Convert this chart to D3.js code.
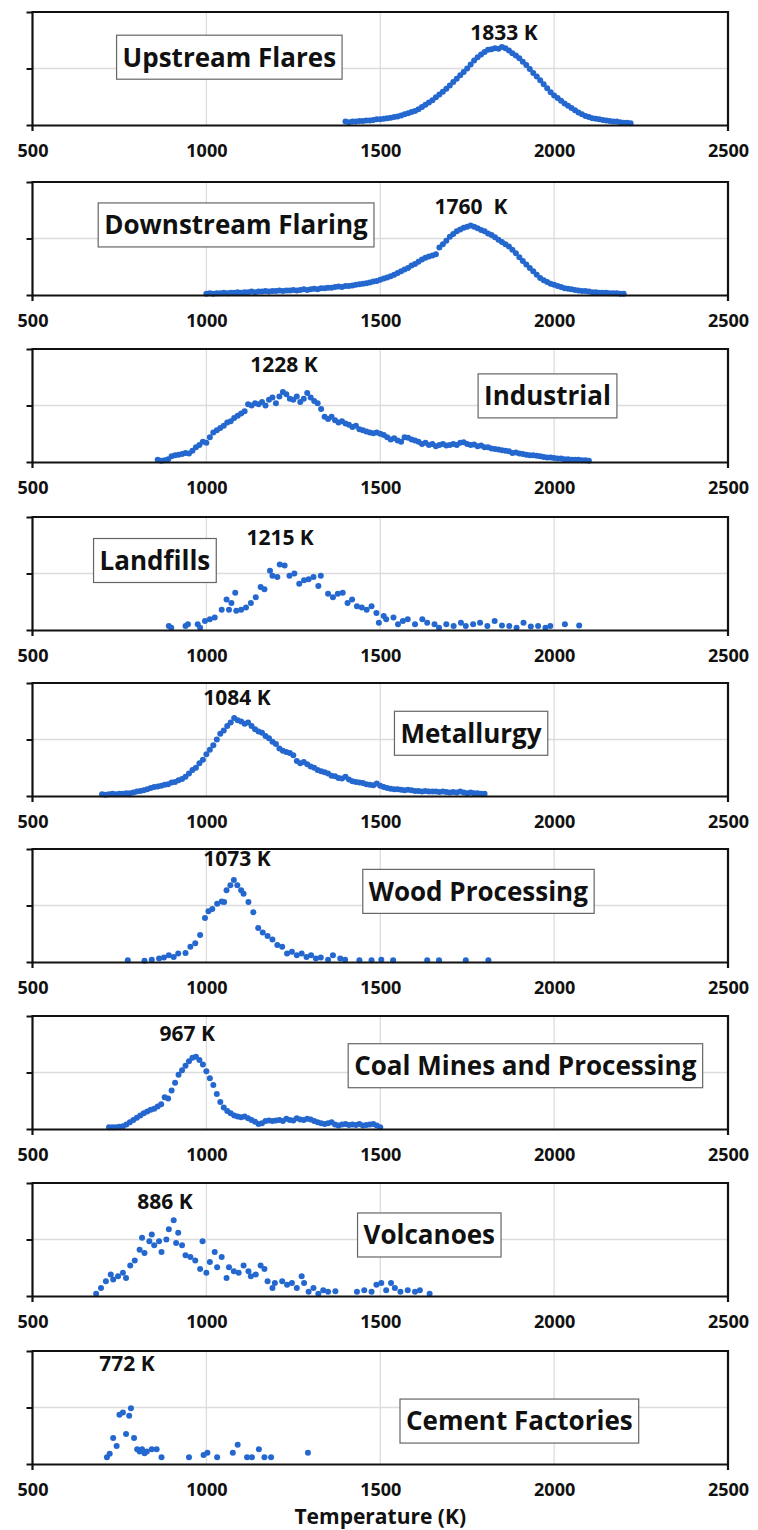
<!DOCTYPE html>
<html>
<head>
<meta charset="utf-8">
<script src="https://cdn.jsdelivr.net/npm/d3@7"></script>
<style>
  body { margin: 0; background: #fff; }
  svg text { font-family: "Open Sans", "Liberation Sans", sans-serif; font-weight: 700; fill: #111; }
</style>
</head>
<body>
<svg id="chart" width="758" height="1530"></svg>
<script>
// bin width (K) for the densely sampled series
const binStep = 10

const xTicks = [500, 1000, 1500, 2000, 2500]
const axisTitle = "Temperature (K)"

// dense series: first bin temperature + relative counts (% of panel height)
const upstreamStart = 1400
const upstreamValues = [3, 2.5, 3, 3, 3.5, 3.5, 4, 4, 4.5, 5, 5, 5.5, 6, 6.5, 7, 7.5, 8.5, 9.5, 10.5, 11.5,
    12.5, 14, 16, 18, 20, 22, 24.5, 27, 29.5, 32, 35, 38, 41, 44, 47, 50, 53.5, 57, 60, 62.5,
    64.5, 66.5, 67, 68, 67.5, 69, 68, 66, 63.5, 61.5, 59, 56, 53, 49.5, 46, 43, 39.5, 36, 32.5, 29,
    26, 24, 21.5, 19, 17, 15, 13, 11, 9.5, 8, 7, 6, 5.5, 5, 4.5, 4, 3.5, 3, 3, 2.5, 2, 2, 1.5]

const downstreamStart = 1000
const downstreamValues = [1, 1.5, 1, 1.5, 1.5, 2, 1.5, 2, 2, 2.5, 2, 2.5, 2.5, 3, 2.5, 3, 3, 3.5, 3, 3.5,
    3.5, 4, 3.5, 4, 4, 4.5, 4, 4.5, 5, 4.5, 5, 5.5, 5, 6, 6, 6.5, 6.5, 7, 7.5, 7,
    8, 8, 8.5, 9, 9.5, 10, 10.5, 11, 12, 12.5, 13.5, 14.5, 15.5, 16.5, 18, 19.5, 21, 22.5, 24, 26,
    27.5, 29.5, 31.5, 33, 34, 35, 36, 42, 45, 48, 51.5, 54, 56.5, 58, 59.5, 60.5, 61.5, 60.5, 59, 57.5,
    56.5, 54.5, 53, 51, 49, 47, 45, 43, 40, 37, 33.5, 30, 27, 24, 21, 18, 15, 13, 11.5, 10,
    9, 8, 7, 6, 5.5, 5, 4.5, 4, 3.5, 3.5, 3, 2.5, 2.5, 2, 2, 2, 1.5, 1.5, 1.5, 1, 1]

const industrialStart = 860
const industrialValues = [2, 1, 1.5, 2.5, 5, 6, 6.5, 7, 8, 7.5, 10, 13, 15, 18, 17, 22, 26, 28, 30, 32,
    35, 36, 39, 41, 43, 45, 51, 50, 52, 51, 53, 50, 55, 57, 52, 58, 62, 60, 56, 55,
    58, 53, 56, 61, 57, 54, 52, 47, 40, 38, 40, 37, 35, 36, 34, 33, 31, 32, 29, 28,
    27, 26, 25.5, 26, 25, 24, 22, 20, 21, 19, 18, 22, 21.5, 20, 19, 18, 16, 17, 15, 16,
    14, 15, 16, 14.5, 15, 16, 15, 17, 17.5, 16, 15, 15.5, 14, 14.5, 13, 13, 12, 11.5, 11, 10.5,
    10, 9.5, 8, 8.5, 7.5, 7, 6.5, 6, 6, 5.5, 5, 4.5, 4, 4, 3.5, 3, 3, 2.5, 2.5, 2,
    2, 2, 1.5, 1.5, 1]

const metallurgyStart = 700
const metallurgyValues = [1.5, 1, 1.5, 2, 1.5, 2, 2, 2.5, 2.5, 3, 4, 4.5, 5, 6, 7, 8, 8.5, 9, 10, 10.5,
    12, 12.5, 14, 15, 17, 20, 23, 25, 29, 32, 37, 41, 45, 50, 55, 58, 62, 65, 69, 67,
    66, 64, 65, 62, 59, 57, 56, 53, 51, 48, 46, 42, 40, 39, 38, 36, 31, 29, 30, 28,
    26, 25, 23, 22, 21, 20, 18, 17.5, 16, 15.5, 17, 14.5, 13, 12.5, 12, 11.5, 10.5, 10, 9.5, 11,
    9, 8, 7, 6.5, 6, 6, 5.5, 5, 5.5, 5, 4.5, 4.5, 4, 4.5, 4, 4, 4, 3.5, 4, 3.5,
    3, 3.5, 3, 4, 3, 2.5, 3, 2.5, 2.5, 2, 2]

const coalStart = 720
const coalValues = [1.5, 1.5, 1.5, 2, 2.5, 4, 6, 8, 10, 12, 14, 15.5, 17, 18, 20, 22, 28, 27, 34, 41,
    48, 52, 56, 60, 63, 64, 61, 57, 51, 45, 39, 31, 24, 19, 16, 14, 12, 11, 10.5, 11,
    9.5, 8, 6.5, 4.5, 5, 7, 7.5, 7, 7.5, 8, 7, 9, 8, 7.5, 9.5, 8.5, 8, 9, 8.5, 7,
    6, 5, 4.5, 5, 6, 4, 3, 4, 4.5, 3.5, 4, 3.5, 4.5, 3, 3.5, 4, 4.5, 3, 1.5]

// sparse series: [temperature K, relative count]
const landfillPoints = [[892, 3.5], [899, 2], [940, 3.5], [947, 5], [975, 5], [982, 2], [996, 8], [1010, 9.5],
    [1024, 11], [1044, 18], [1058, 27], [1072, 24], [1083, 33], [1065, 18], [1086, 17], [1100, 18],
    [1114, 20], [1128, 24], [1142, 29], [1156, 38], [1167, 36], [1183, 52.5], [1190, 48], [1204, 47],
    [1211, 58], [1225, 57], [1239, 48], [1253, 50], [1267, 41], [1281, 44], [1294, 45], [1308, 47],
    [1322, 39], [1329, 48], [1350, 32], [1364, 29], [1378, 32], [1392, 33], [1406, 24], [1419, 27],
    [1433, 21], [1447, 20], [1461, 18], [1475, 21], [1489, 15], [1496, 6.5], [1510, 12.5], [1517, 9.5],
    [1538, 11], [1551, 5], [1565, 8], [1579, 9.5], [1600, 5], [1621, 9.5], [1635, 6.5], [1656, 5],
    [1669, 2], [1690, 5], [1711, 3.5], [1732, 6.5], [1746, 3.5], [1767, 5], [1787, 6.5], [1808, 3.5],
    [1829, 8], [1850, 4], [1871, 3.5], [1892, 2], [1912, 6.5], [1933, 3], [1954, 3.5], [1975, 2],
    [1989, 3.5], [2031, 5], [2072, 4]]

const woodPoints = [[774, 1.5], [822, 1], [843, 2], [864, 3], [878, 4], [892, 6], [906, 4.5], [919, 7.5],
    [940, 8], [954, 13.5], [968, 16.5], [982, 24], [996, 39], [1006, 45], [1017, 47], [1031, 51.5],
    [1044, 53.5], [1051, 53], [1058, 63.5], [1069, 68], [1079, 72.5], [1089, 68], [1100, 63.5], [1107, 60.5],
    [1121, 53], [1135, 44], [1149, 30], [1162, 26], [1176, 23], [1190, 20], [1204, 15], [1218, 13.5],
    [1232, 7.5], [1246, 9], [1260, 6], [1274, 7.5], [1288, 4.5], [1301, 6], [1315, 3], [1329, 4],
    [1350, 2], [1364, 6], [1385, 3], [1399, 2], [1440, 1.5], [1475, 1.5], [1503, 2], [1537, 1.5],
    [1635, 1.5], [1669, 1.5], [1746, 1.5], [1811, 1.5]]

const volcanoPoints = [[683, 2], [697, 7], [711, 13], [725, 19], [732, 14.5], [746, 17.5], [760, 20.5], [769, 16],
    [781, 27], [794, 31.5], [808, 41], [815, 51.5], [822, 38], [836, 48.5], [843, 54.5], [850, 45],
    [864, 48.5], [871, 39], [885, 50], [892, 59], [906, 67], [913, 47], [919, 56], [930, 45],
    [940, 36], [954, 34.5], [968, 31.5], [982, 24], [989, 48.5], [1000, 20.5], [1010, 30], [1024, 39],
    [1031, 25.5], [1044, 34.5], [1058, 16], [1065, 25.5], [1079, 22], [1093, 20.5], [1107, 27], [1121, 22],
    [1128, 17.5], [1142, 19], [1156, 27], [1167, 24], [1176, 13], [1190, 7], [1197, 11.5], [1218, 13],
    [1232, 10], [1246, 11.5], [1260, 7], [1274, 17.5], [1281, 11.5], [1294, 3.7], [1308, 7], [1322, 2],
    [1336, 5], [1350, 3.7], [1371, 4.3], [1433, 3.7], [1454, 5], [1475, 3.7], [1489, 10], [1503, 11.5],
    [1517, 5], [1531, 11.5], [1542, 7], [1558, 3.7], [1579, 5], [1600, 3.7], [1614, 5], [1642, 2]]

const cementPoints = [[714, 6], [722, 9], [732, 23], [742, 16], [750, 43.5], [760, 45.5], [769, 26.6], [778, 42.6],
    [783, 49.4], [792, 23], [801, 13], [808, 11], [815, 13], [822, 9.5], [829, 11], [843, 13],
    [857, 13], [871, 6], [950, 6], [992, 8], [1003, 10], [1031, 6], [1076, 10], [1090, 17],
    [1117, 6], [1131, 6], [1151, 13], [1167, 6], [1186, 6], [1292, 10]]

const sourceNames = ["Upstream Flares", "Downstream Flaring", "Industrial", "Landfills", "Metallurgy",
    "Wood Processing", "Coal Mines and Processing", "Volcanoes", "Cement Factories"]
const peakLabels = ["1833 K", "1760  K", "1228 K", "1215 K", "1084 K", "1073 K", "967 K", "886 K", "772 K"]

const binned = (start, values) => values.map((v, i) => [start + i * binStep, v])
const series = [
    binned(upstreamStart, upstreamValues),
    binned(downstreamStart, downstreamValues),
    binned(industrialStart, industrialValues),
    landfillPoints,
    binned(metallurgyStart, metallurgyValues),
    woodPoints,
    binned(coalStart, coalValues),
    volcanoPoints,
    cementPoints
]

// layout: panel tops in px, annotation anchors in data units [T, value]
const panelTops = [12, 182, 349, 517, 683, 849, 1016, 1183, 1351]
const peakAnchors = [[1856, 82], [1761, 78], [1223, 86], [1212, 82], [1088, 87], [1088, 92], [945, 85], [881, 84], [772, 89]]
const boxAnchors = [[1066, 60], [1085, 62], [1981, 58.5], [852, 61.5], [1761, 55.5], [1782, 62.5], [1917, 56], [1641, 54], [1900, 38]]

const panelHeight = 113
const dotColor = "#2468cf"

const svg = d3.select("#chart")

const x = d3.scaleLinear()
    .domain([500, 2500])
    .range([32.5, 728])

series.forEach((points, i) => {
    const g = svg.append("g")
        .attr("transform", "translate(0," + panelTops[i] + ")")

    const y = d3.scaleLinear()
        .domain([0, 100])
        .range([panelHeight, 0])

    // grid
    g.append("g")
        .selectAll("line.vgrid")
        .data(xTicks.slice(1, -1))
        .enter()
        .append("line")
        .attr("x1", d => x(d)).attr("x2", d => x(d))
        .attr("y1", y(100)).attr("y2", y(0))
        .attr("stroke", "#dcdcdc").attr("stroke-width", 1.3)
    g.append("line")
        .attr("x1", x(500)).attr("x2", x(2500))
        .attr("y1", y(50)).attr("y2", y(50))
        .attr("stroke", "#dcdcdc").attr("stroke-width", 1.3)

    // frame (top + right)
    g.append("path")
        .attr("d", "M" + x(500) + "," + y(100) + "H" + x(2500) + "V" + (y(0) + 6))
        .attr("fill", "none").attr("stroke", "#111").attr("stroke-width", 2.2)

    // Y axis, labels hidden
    g.append("g")
        .attr("transform", "translate(" + x(500) + ",0)")
        .call(d3.axisLeft(y).tickValues([0, 50, 100]).tickSize(6).tickFormat(""))
        .call(a => a.select(".domain").remove())
        .call(a => a.selectAll("line").attr("stroke", "#111").attr("stroke-width", 2))
    g.append("line")
        .attr("x1", x(500)).attr("x2", x(500))
        .attr("y1", y(100) - 1).attr("y2", y(0) + 6)
        .attr("stroke", "#111").attr("stroke-width", 2.2)

    // points
    g.append("g")
        .selectAll("circle")
        .data(points)
        .enter()
        .append("circle")
        .attr("cx", d => x(d[0]))
        .attr("cy", d => y(d[1]))
        .attr("r", 3)
        .attr("fill", dotColor)

    // X axis
    const xAxis = g.append("g")
        .attr("transform", "translate(0," + y(0) + ")")
        .call(d3.axisBottom(x).tickValues(xTicks).tickSize(0).tickPadding(19).tickFormat(d3.format("d")))
    xAxis.select(".domain").attr("stroke", "#111").attr("stroke-width", 2.2)
    xAxis.selectAll("text")
        .style("font-size", "18px")
        .style("font-family", "'Open Sans', sans-serif")
        .style("font-weight", 700)
        .attr("fill", "#111")

    // peak temperature
    g.append("text")
        .attr("x", x(peakAnchors[i][0]))
        .attr("y", y(peakAnchors[i][1]))
        .attr("dy", "0.36em")
        .attr("text-anchor", "middle")
        .style("font-size", "21px")
        .style("white-space", "pre")
        .text(peakLabels[i])

    // source name box
    const label = g.append("g")
        .attr("transform", "translate(" + x(boxAnchors[i][0]) + "," + y(boxAnchors[i][1]) + ")")
    const rect = label.append("rect")
        .attr("fill", "#fff").attr("stroke", "#666").attr("stroke-width", 1.2)
    const txt = label.append("text")
        .attr("text-anchor", "middle")
        .attr("dy", "0.36em")
        .style("font-size", "26px")
        .text(sourceNames[i])
    const bb = txt.node().getBBox()
    rect.attr("x", bb.x - 6).attr("width", bb.width + 12)
        .attr("y", -22).attr("height", 44)
})

svg.append("text")
    .attr("x", x(1500))
    .attr("y", 1516)
    .attr("dy", "0.36em")
    .attr("text-anchor", "middle")
    .style("font-size", "21px")
    .text(axisTitle)
</script>
</body>
</html>
